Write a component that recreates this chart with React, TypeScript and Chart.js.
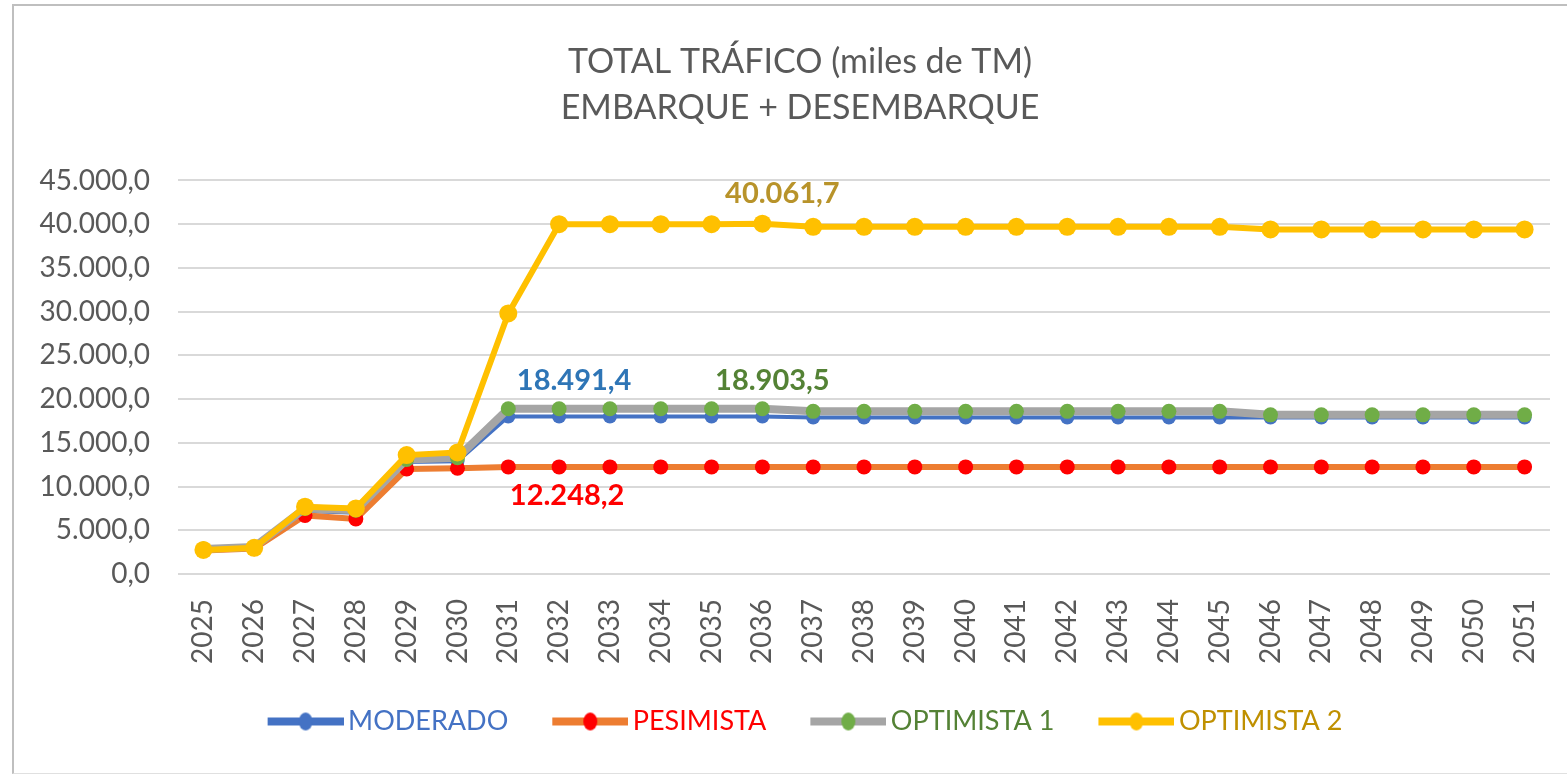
import React, { useEffect, useRef } from "react";
import { Chart, registerables } from "chart.js";

Chart.register(...registerables);

// ---------- data ----------
const years = [
  "2025", "2026", "2027", "2028", "2029", "2030", "2031", "2032", "2033",
  "2034", "2035", "2036", "2037", "2038", "2039", "2040", "2041", "2042",
  "2043", "2044", "2045", "2046", "2047", "2048", "2049", "2050", "2051",
];

const moderado = [
  2800, 3000, 7200, 7000, 12800, 12900, 18000, 18000, 18000, 18000, 18000,
  18000, 17900, 17900, 17900, 17900, 17900, 17900, 17900, 17900, 17900,
  17900, 17900, 17900, 17900, 17900, 17900,
];

const pesimista = [
  2700, 2900, 6700, 6300, 12000, 12100, 12248.2, 12248.2, 12248.2, 12248.2,
  12248.2, 12248.2, 12248.2, 12248.2, 12248.2, 12248.2, 12248.2, 12248.2,
  12248.2, 12248.2, 12248.2, 12248.2, 12248.2, 12248.2, 12248.2, 12248.2,
  12248.2,
];

const optimista1 = [
  2850, 3100, 7500, 7300, 13100, 13300, 18903.5, 18903.5, 18903.5, 18903.5,
  18903.5, 18903.5, 18600, 18600, 18600, 18600, 18600, 18600, 18600, 18600,
  18600, 18200, 18200, 18200, 18200, 18200, 18200,
];

const optimista2 = [
  2750, 3000, 7700, 7500, 13600, 13900, 29800, 40000, 40000, 40000, 40000,
  40061.7, 39700, 39700, 39700, 39700, 39700, 39700, 39700, 39700, 39700,
  39400, 39400, 39400, 39400, 39400, 39400,
];

const seriesNames = ["MODERADO", "PESIMISTA", "OPTIMISTA 1", "OPTIMISTA 2"];
const titleLines = ["TOTAL TRÁFICO (miles de TM)", "EMBARQUE + DESEMBARQUE"];

// data labels shown on the chart: [series index, point index]
const labelPoints = [
  [0, 7],
  [1, 7],
  [2, 11],
  [3, 11],
];
const labelTexts = ["18.491,4", "12.248,2", "18.903,5", "40.061,7"];

// ---------- styles ----------
const FONT = "Lato, 'Open Sans', sans-serif";
const TEXT_GRAY = "#595959";
const lineColors = ["#4472C4", "#ED7D31", "#A5A5A5", "#FFC000"];
const markerColors = ["#4472C4", "#FF0000", "#70AD47", "#FFC000"];
const lineWidths = [4, 6, 8, 6];
const markerRadii = [7, 7.5, 7.5, 9];
const drawOrder = [4, 3, 2, 1];
const legendTextColors = ["#4472C4", "#FF0000", "#548235", "#BF9000"];
const labelColors = ["#2E75B6", "#FF0000", "#548235", "#B8932A"];
const labelOffsets = [
  [15, -36],
  [8, 29],
  [10, -28],
  [20, -30],
];

function fmt(v: number): string {
  const [i, d] = v.toFixed(1).split(".");
  return i.replace(/\B(?=(\d{3})+(?!\d))/g, ".") + "," + d;
}

function makeSymbol(k: number): HTMLCanvasElement {
  const L = 43;
  const W = 76;
  const c = document.createElement("canvas");
  c.width = L + W;
  c.height = 24;
  const ctx = c.getContext("2d")!;
  ctx.strokeStyle = lineColors[k];
  ctx.lineWidth = 8;
  ctx.beginPath();
  ctx.moveTo(L, 12);
  ctx.lineTo(L + W, 12);
  ctx.stroke();
  ctx.fillStyle = markerColors[k];
  ctx.beginPath();
  ctx.ellipse(L + W / 2, 12, 7, 9, 0, 0, Math.PI * 2);
  ctx.fill();
  return c;
}

const valueLabels = {
  id: "valueLabels",
  afterDatasetsDraw(chart: any) {
    const ctx = chart.ctx;
    labelPoints.forEach(([ds, idx], k) => {
      const pt = chart.getDatasetMeta(ds).data[idx];
      if (!pt) return;
      ctx.save();
      ctx.font = `bold 29px ${FONT}`;
      ctx.fillStyle = labelColors[k];
      ctx.textAlign = "center";
      ctx.textBaseline = "middle";
      ctx.fillText(labelTexts[k], pt.x + labelOffsets[k][0], pt.y + labelOffsets[k][1]);
      ctx.restore();
    });
  },
};

// shift title / legend boxes horizontally to their place in the reference
const boxShift = {
  id: "boxShift",
  afterLayout(chart: any) {
    const t = chart.titleBlock;
    if (t) {
      t.left += 15;
      t.right += 15;
    }
    const l = chart.legend;
    if (l) {
      l.left += 3;
      l.right += 3;
    }
  },
};

export default function App() {
  const ref = useRef<HTMLCanvasElement | null>(null);

  useEffect(() => {
    if (!ref.current) return;
    const series = [moderado, pesimista, optimista1, optimista2];
    const symbols = [0, 1, 2, 3].map(makeSymbol);
    const chart = new Chart(ref.current, {
      type: "line",
      data: {
        labels: years,
        datasets: series.map((d, k) => ({
          label: seriesNames[k],
          data: d,
          borderColor: lineColors[k],
          backgroundColor: markerColors[k],
          borderWidth: lineWidths[k],
          pointRadius: markerRadii[k],
          pointBackgroundColor: markerColors[k],
          pointBorderWidth: 0,
          pointBorderColor: markerColors[k],
          tension: 0,
          order: drawOrder[k],
        })),
      },
      options: {
        animation: false,
        responsive: false,
        layout: { padding: { top: 10, left: 20, right: 17, bottom: 32 } },
        scales: {
          x: {
            offset: true,
            grid: { display: false, drawTicks: false },
            border: { display: false },
            ticks: {
              minRotation: 90,
              maxRotation: 90,
              padding: 25,
              color: TEXT_GRAY,
              font: { family: FONT, size: 28 },
            },
            afterFit: (s: any) => {
              s.height = 124;
              s.paddingLeft = 0;
              s.paddingRight = 0;
            },
          },
          y: {
            min: 0,
            max: 45000,
            grid: { color: "#D9D9D9", lineWidth: 2, drawTicks: false },
            border: { display: false },
            ticks: {
              stepSize: 5000,
              padding: 28,
              color: TEXT_GRAY,
              font: { family: FONT, size: 28 },
              callback: (v: any) => fmt(Number(v)),
            },
            afterFit: (s: any) => {
              s.width = 158;
            },
          },
        },
        plugins: {
          tooltip: { enabled: false },
          title: {
            display: true,
            text: titleLines,
            color: TEXT_GRAY,
            font: { family: FONT, size: 34, weight: "normal", lineHeight: 1.36 },
            padding: { top: 29, bottom: 49 },
          },
          legend: {
            position: "bottom",
            labels: {
              usePointStyle: true,
              pointStyleWidth: 101,
              padding: 10,
              font: { family: FONT, size: 27 },
              generateLabels: () =>
                seriesNames.map((name, k) => ({
                  text: name,
                  fontColor: legendTextColors[k],
                  pointStyle: symbols[k],
                  fillStyle: "rgba(0,0,0,0)",
                  strokeStyle: "rgba(0,0,0,0)",
                  lineWidth: 0,
                  hidden: false,
                  datasetIndex: k,
                })),
            },
          },
        },
      },
      plugins: [valueLabels, boxShift],
    } as any);
    return () => chart.destroy();
  }, []);

  return (
    <div style={{ position: "fixed", left: 0, top: 0, width: 1567, height: 777, background: "#fff", overflow: "hidden" }}>
      <div
        style={{
          position: "absolute",
          left: 12,
          top: 4,
          width: 1555,
          height: 770,
          borderLeft: "2px solid #BFBFBF",
          borderTop: "2px solid #BFBFBF",
          borderBottom: "1px solid #E0E0E0",
          boxSizing: "border-box",
        }}
      />
      <canvas
        ref={ref}
        width={1567}
        height={777}
        style={{ position: "absolute", left: 0, top: 0, width: 1567, height: 777 }}
      />
    </div>
  );
}
